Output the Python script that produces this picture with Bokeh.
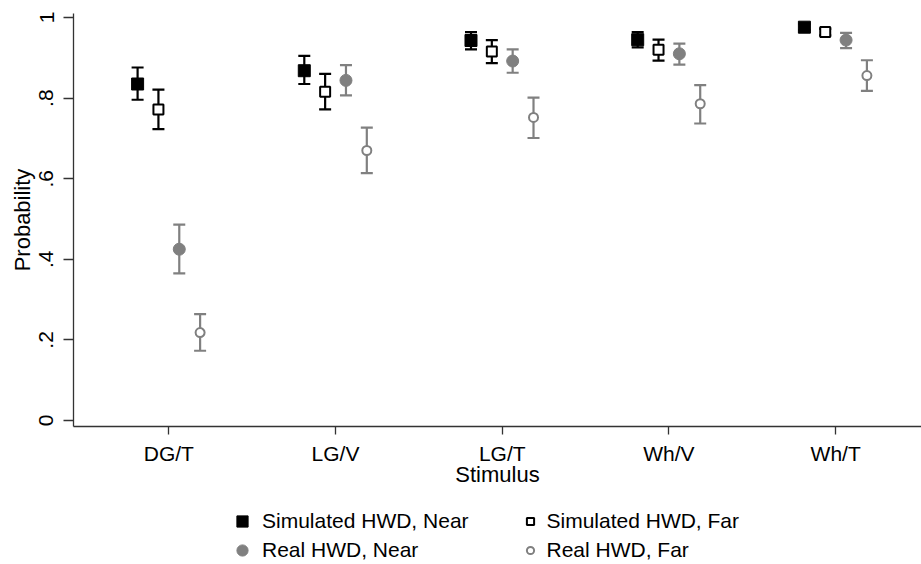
import numpy as np
from bokeh.plotting import figure
from bokeh.layouts import column
from bokeh.models import (ColumnDataSource, Whisker, TeeHead, Legend, LegendItem,
                          FixedTicker, Range1d)
from bokeh.embed import file_html
from bokeh.resources import INLINE

categories = ["DG/T", "LG/V", "LG/T", "Wh/V", "Wh/T"]

sim_near = [0.835, 0.868, 0.943, 0.945, 0.976]
sim_near_lo = [0.796, 0.835, 0.921, 0.926, 0.969]
sim_near_hi = [0.876, 0.905, 0.964, 0.964, 0.984]

sim_far = [0.772, 0.816, 0.916, 0.920, 0.964]
sim_far_lo = [0.723, 0.772, 0.887, 0.893, 0.956]
sim_far_hi = [0.821, 0.860, 0.944, 0.945, 0.972]

real_near = [0.425, 0.844, 0.892, 0.910, 0.944]
real_near_lo = [0.365, 0.807, 0.863, 0.883, 0.924]
real_near_hi = [0.486, 0.882, 0.921, 0.935, 0.962]

real_far = [0.218, 0.670, 0.752, 0.786, 0.856]
real_far_lo = [0.173, 0.614, 0.701, 0.737, 0.818]
real_far_hi = [0.264, 0.727, 0.801, 0.832, 0.894]

y_ticks = [0, 0.2, 0.4, 0.6, 0.8, 1.0]
y_tick_labels = ["0", ".2", ".4", ".6", ".8", "1"]

FONT = "Liberation Sans"
FS_TICK = "21px"
FS_TITLE = "22px"
GRAY = "#808080"

p = figure(width=921, height=500, output_backend="svg", toolbar_location=None,
           x_range=Range1d(0.428, 5.515), y_range=Range1d(-0.015, 1.01),
           min_border_left=73, min_border_right=0, min_border_top=13,
           min_border_bottom=74)
p.outline_line_color = None
p.xgrid.visible = False
p.ygrid.visible = False
p.background_fill_color = "white"
p.border_fill_color = "white"

# separate strip for the legend (its ranges show none of the data points)
lg = figure(width=921, height=64, output_backend="svg", toolbar_location=None,
            x_range=Range1d(-3, -2), y_range=Range1d(-3, -2),
            x_axis_type=None, y_axis_type=None,
            min_border=0, min_border_left=0, min_border_right=0,
            min_border_top=0, min_border_bottom=0)
lg.outline_line_color = None
lg.xgrid.visible = False
lg.ygrid.visible = False

base = np.arange(1, len(categories) + 1, dtype=float)
series = [
    ("Simulated HWD, Near", sim_near, sim_near_lo, sim_near_hi, -0.1875, "square", "black", "black", 12, 1),
    ("Simulated HWD, Far", sim_far, sim_far_lo, sim_far_hi, -0.0625, "square", "black", "white", 10, 2),
    ("Real HWD, Near", real_near, real_near_lo, real_near_hi, 0.0625, "circle", GRAY, GRAY, 12, 1),
    ("Real HWD, Far", real_far, real_far_lo, real_far_hi, 0.1875, "circle", GRAY, "white", 9, 2),
]

legend_renderers = {}
for name, y, lo, hi, off, marker, lc, fc, size, lw in series:
    src = ColumnDataSource(dict(x=base + off, y=y, lower=lo, upper=hi))
    w = Whisker(source=src, base="x", lower="lower", upper="upper",
                line_color=lc, line_width=2.2,
                upper_head=TeeHead(size=12, line_color=lc, line_width=2.2),
                lower_head=TeeHead(size=12, line_color=lc, line_width=2.2))
    p.add_layout(w)
    p.scatter("x", "y", source=src, marker=marker, size=size,
              line_color=lc, fill_color=fc, line_width=lw)
    r = lg.scatter("x", "y", source=src, marker=marker, size=size,
                   line_color=lc, fill_color=fc, line_width=lw)
    legend_renderers[name] = r

# axes
p.xaxis.ticker = FixedTicker(ticks=list(base))
p.xaxis.major_label_overrides = {float(b): c for b, c in zip(base, categories)}
p.xaxis.major_label_overrides.update({int(b): c for b, c in zip(base, categories)})
p.yaxis.ticker = FixedTicker(ticks=y_ticks)
p.yaxis.major_label_overrides = {t: l for t, l in zip(y_ticks, y_tick_labels)}
p.yaxis.major_label_orientation = "vertical"

p.xaxis.axis_label = "Stimulus"
p.yaxis.axis_label = "Probability"
for ax in (p.xaxis, p.yaxis):
    ax.axis_line_color = "#333333"
    ax.axis_line_width = 1.3
    ax.major_tick_line_color = "#333333"
    ax.major_tick_line_width = 1.3
    ax.minor_tick_line_color = None
    ax.major_tick_in = 0
    ax.major_label_text_font = FONT
    ax.major_label_text_font_size = FS_TICK
    ax.major_label_text_color = "black"
    ax.axis_label_text_font = FONT
    ax.axis_label_text_font_size = FS_TITLE
    ax.axis_label_text_font_style = "normal"
    ax.axis_label_text_color = "black"

p.xaxis.major_tick_out = 8
p.xaxis.major_label_standoff = 7
p.xaxis.axis_label_standoff = -6
p.yaxis.major_tick_out = 10
p.yaxis.major_label_standoff = 10
p.yaxis.axis_label_standoff = 2


def make_legend(names, loc, gsize, standoff):
    return Legend(items=[LegendItem(label=n, renderers=[legend_renderers[n]], index=0) for n in names],
                  location=loc, orientation="vertical",
                  border_line_color=None, background_fill_alpha=0,
                  padding=0, margin=0, spacing=1,
                  glyph_width=gsize, glyph_height=gsize, label_height=28,
                  label_standoff=standoff,
                  label_text_font=FONT, label_text_font_size=FS_TICK,
                  label_text_color="black")


lg.add_layout(make_legend(["Simulated HWD, Near", "Real HWD, Near"], (155, 0), 28, 6))
lg.add_layout(make_legend(["Simulated HWD, Far", "Real HWD, Far"], (447.5, 0), 18, 8))

layout = column(p, lg, spacing=0)
open("out.html", "w").write(file_html(layout, INLINE))
